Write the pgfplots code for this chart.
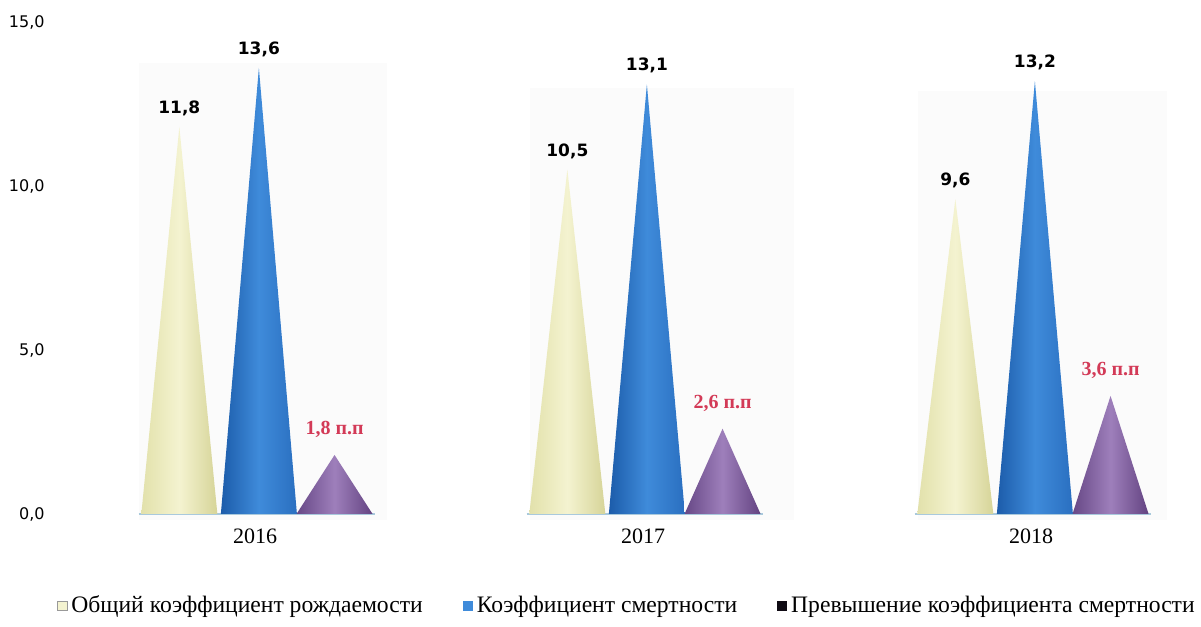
\documentclass[border=0pt]{standalone}
\usepackage{pgfplots}
\pgfplotsset{compat=1.18}
\usepackage{fontspec}
\setmainfont{Liberation Serif}
\newfontfamily\dejavu{DejaVu Sans}
\definecolor{yelL}{HTML}{E2E1AB}
\definecolor{yelM}{HTML}{F4F3D0}
\definecolor{yelR}{HTML}{D6D498}
\definecolor{bluL}{HTML}{1C5CAA}
\definecolor{bluM}{HTML}{3F8BDA}
\definecolor{bluR}{HTML}{2A6FC0}
\definecolor{purL}{HTML}{674886}
\definecolor{purM}{HTML}{9E7FBB}
\definecolor{purR}{HTML}{634381}
\definecolor{redlab}{HTML}{D33A57}
\definecolor{floor}{HTML}{A9C9DC}
\pgfplotsset{
  yelcone/.style={forget plot, draw=none, left color=yelL, right color=yelR, middle color=yelM},
  blucone/.style={forget plot, draw=none, left color=bluL, right color=bluR, middle color=bluM},
  purcone/.style={forget plot, draw=none, left color=purL, right color=purR, middle color=purM},
}
\begin{document}
\begin{tikzpicture}
\useasboundingbox (-30pt,-56.5pt) rectangle (570.5pt,257pt);
\begin{axis}[
  scale only axis, width=566.5pt, height=246pt,
  xmin=-0.5026, xmax=2.4175, ymin=0, ymax=15,
  clip=false,
  axis line style={draw=none}, tick style={draw=none},
  xtick={0,1,2}, xticklabels={2016,2017,2018},
  ytick={0,5,10,15},
  /pgf/number format/fixed, /pgf/number format/fixed zerofill,
  /pgf/number format/precision=1, /pgf/number format/use comma,
  /pgf/number format/assume math mode=true,
  yticklabel style={font=\dejavu\fontsize{8}{9}\selectfont, anchor=east, inner sep=0pt, xshift=-7.5pt},
  xticklabel style={font=\fontsize{11}{12}\selectfont, anchor=north, inner sep=0pt, yshift=-7pt},
  legend style={at={(0,0)}, anchor=west, xshift=-1.5pt, yshift=-46pt, draw=none, fill=none,
    font=\fontsize{11.8}{13}\selectfont, inner sep=0pt,
    /tikz/every even column/.append style={column sep=18pt}},
  legend columns=3, legend cell align=left,
]
% faint background panels
\fill[black!1.5] (axis cs:-0.30,-0.18) rectangle (axis cs:0.34,13.75);
\fill[black!1.5] (axis cs:0.71,-0.18) rectangle (axis cs:1.39,13.0);
\fill[black!1.5] (axis cs:1.71,-0.18) rectangle (axis cs:2.35,12.9);
% floor lines
\draw[floor, line width=0.9pt] (axis cs:-0.30,0) -- (axis cs:0.31,0);
\draw[floor, line width=0.9pt] (axis cs:0.70,0) -- (axis cs:1.31,0);
\draw[floor, line width=0.9pt] (axis cs:1.70,0) -- (axis cs:2.31,0);

\addlegendimage{legend image code/.code={\draw[draw=gray!80, fill=yelM] (0pt,-2.3pt) rectangle (4.6pt,2.3pt);}}
\addlegendentry{Общий коэффициент рождаемости}
\addlegendimage{legend image code/.code={\fill[bluM] (0pt,-2.3pt) rectangle (4.6pt,2.3pt);}}
\addlegendentry{Коэффициент смертности}
\addlegendimage{legend image code/.code={\fill[black!85!purL] (0pt,-2.3pt) rectangle (4.6pt,2.3pt);}}
\addlegendentry{Превышение коэффициента смертности}

% birth rate cones
\addplot[yelcone] coordinates {(-0.293,0) (-0.195,11.8) (-0.097,0)} \closedcycle;
\addplot[yelcone] coordinates {(0.707,0) (0.805,10.5) (0.903,0)} \closedcycle;
\addplot[yelcone] coordinates {(1.707,0) (1.805,9.6) (1.903,0)} \closedcycle;
% death rate cones
\addplot[blucone] coordinates {(-0.088,0) (0.010,13.6) (0.108,0)} \closedcycle;
\addplot[blucone] coordinates {(0.912,0) (1.010,13.1) (1.108,0)} \closedcycle;
\addplot[blucone] coordinates {(1.912,0) (2.010,13.2) (2.108,0)} \closedcycle;
% excess cones
\addplot[purcone] coordinates {(0.107,0) (0.205,1.8) (0.303,0)} \closedcycle;
\addplot[purcone] coordinates {(1.107,0) (1.205,2.6) (1.303,0)} \closedcycle;
\addplot[purcone] coordinates {(2.107,0) (2.205,3.6) (2.303,0)} \closedcycle;

% value labels
\addplot[forget plot, draw=none, mark=none, point meta=y, nodes near coords,
  nodes near coords style={font=\dejavu\bfseries\fontsize{8.5}{10}\selectfont, text=black, anchor=south, yshift=2pt}]
  coordinates {(-0.195,11.8) (0.805,10.5) (1.805,9.6) (0.010,13.6) (1.010,13.1) (2.010,13.2)};
\addplot[forget plot, draw=none, mark=none, point meta=y,
  nodes near coords={\pgfmathprintnumber{\pgfplotspointmeta} п.п},
  nodes near coords style={font=\bfseries\fontsize{10}{12}\selectfont, text=redlab, anchor=south, yshift=5pt}]
  coordinates {(0.205,1.8) (1.205,2.6) (2.205,3.6)};
\end{axis}
\end{tikzpicture}
\end{document}
